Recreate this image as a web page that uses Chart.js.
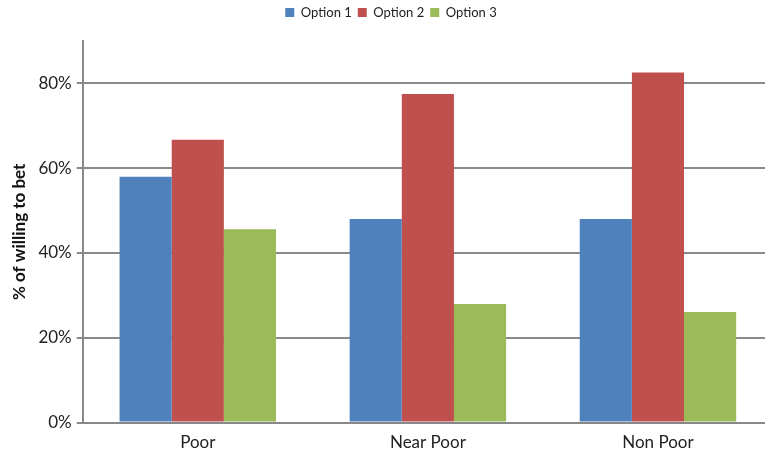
<!DOCTYPE html>
<html>
<head>
<meta charset="utf-8">
<script src="https://cdn.jsdelivr.net/npm/chart.js@4/dist/chart.umd.min.js"></script>
<style>
  html, body { margin: 0; padding: 0; background: #fff; overflow: hidden; }
  #wrap { width: 773px; height: 455px; }
</style>
</head>
<body>
<div id="wrap"><canvas id="c" width="773" height="455"></canvas></div>
<script>
// Share of respondents willing to bet, by poverty group
const categories = ['Poor', 'Near Poor', 'Non Poor'];
const seriesNames = ['Option 1', 'Option 2', 'Option 3'];
const option1 = [58.0, 48.0, 48.0];
const option2 = [66.7, 77.5, 82.6];
const option3 = [45.6, 28.0, 26.1];
const yTicks = [0, 20, 40, 60, 80];

const colors = ['#4F81BD', '#C0504D', '#9BBB59'];
const font = "Lato, 'Open Sans', sans-serif";

// Leave extra room between the legend and the plot area
const legendGap = {
  id: 'legendGap',
  beforeInit(chart) {
    const fit = chart.legend.fit;
    chart.legend.fit = function () {
      fit.call(this);
      this.height += 12;
    };
  }
};

const chart = new Chart(document.getElementById('c'), {
  type: 'bar',
  data: {
    labels: categories,
    datasets: [option1, option2, option3].map((vals, i) => ({
      label: seriesNames[i],
      data: vals,
      backgroundColor: colors[i],
      borderWidth: 0,
      categoryPercentage: 0.68,
      barPercentage: 1.0
    }))
  },
  options: {
    responsive: false,
    animation: false,
    layout: { padding: { top: 0, right: 0, bottom: 0, left: 9 } },
    plugins: {
      legend: {
        position: 'top',
        labels: {
          boxWidth: 9, boxHeight: 9, padding: 6,
          color: '#222',
          font: { family: font, size: 13 }
        }
      },
      tooltip: { enabled: false }
    },
    scales: {
      x: {
        grid: { display: false },
        border: { display: true, color: '#888', width: 2 },
        ticks: { color: '#222', font: { family: font, size: 17 }, padding: 2 }
      },
      y: {
        min: 0, max: 90,
        afterBuildTicks: (scale) => {
          scale.ticks = yTicks.map(v => ({ value: v }));
        },
        grid: { color: '#8a8a8a', lineWidth: 2, tickLength: 6 },
        border: { display: true, color: '#888', width: 2 },
        ticks: {
          color: '#222', padding: 5,
          font: { family: font, size: 17 },
          callback: (v) => v + '%'
        },
        title: {
          display: true, text: '% of willing to bet',
          color: '#111', padding: { top: 0, bottom: 4 },
          font: { family: font, size: 17, weight: 'bold' }
        }
      }
    }
  },
  plugins: [legendGap]
});
</script>
</body>
</html>
